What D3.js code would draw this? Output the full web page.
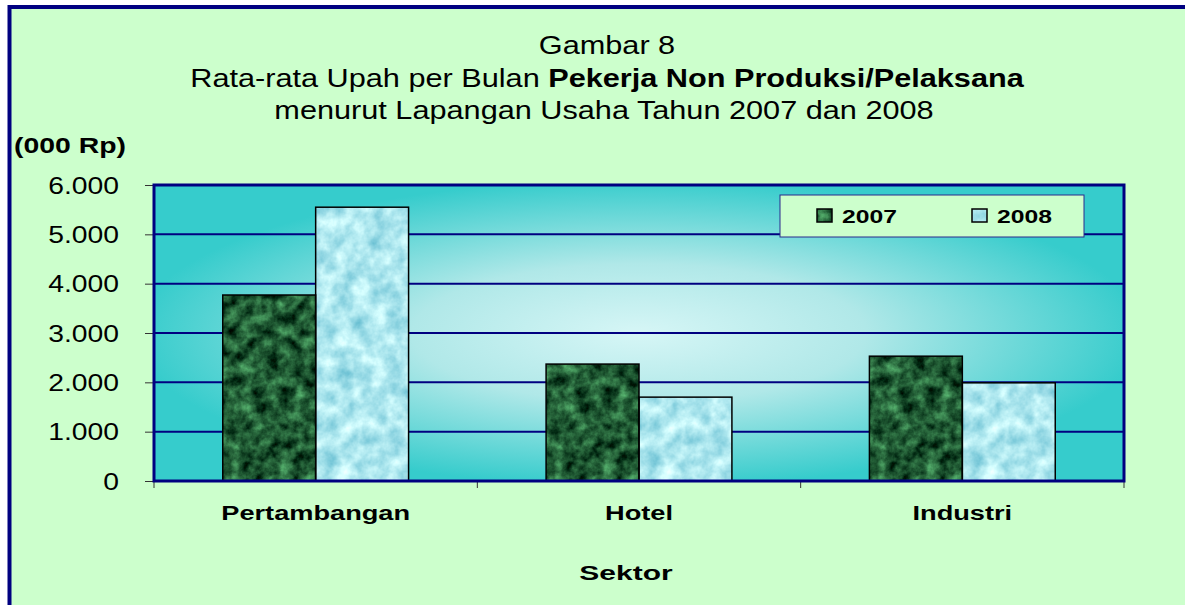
<!DOCTYPE html>
<html lang="en">
<head>
<meta charset="UTF-8">
<title>Gambar 8</title>
<script src="https://d3js.org/d3.v7.min.js"></script>
<style>
    body { margin: 0; background: #ffffff; }
    svg { display: block; font-family: "Liberation Sans", Arial, sans-serif; }
</style>
</head>
<body>
<svg id="chart" width="1185" height="605"></svg>
<script>
    // data (000 Rp)
    const categories = ["Pertambangan", "Hotel", "Industri"];
    const years = ["2007", "2008"];
    const values2007 = [3770, 2370, 2530];
    const values2008 = [5550, 1700, 1990];
    const yTicks = [0, 1000, 2000, 3000, 4000, 5000, 6000];

    const rows = categories.map((c, i) => ({ cat: c, "2007": values2007[i], "2008": values2008[i] }));

    const W = 1185, H = 605;
    const margin = { top: 185, right: 61, bottom: 124, left: 154 };
    const SX = 1.18; // reference text is stretched sideways

    const svg = d3.select("#chart");
    const defs = svg.append("defs");

    // plot background: radial glow
    const rg = defs.append("radialGradient").attr("id", "glow")
        .attr("cx", 0.5).attr("cy", 0.5).attr("r", 0.52);
    rg.append("stop").attr("offset", "0%").attr("stop-color", "#d6f6f6");
    rg.append("stop").attr("offset", "45%").attr("stop-color", "#b0e8e8");
    rg.append("stop").attr("offset", "100%").attr("stop-color", "#36cccc");

    // marble / water textures
    function texture(id, freq, seed, m) {
        const f = defs.append("filter").attr("id", id)
            .attr("x", 0).attr("y", 0).attr("width", 1).attr("height", 1)
            .attr("color-interpolation-filters", "sRGB");
        f.append("feTurbulence").attr("type", "fractalNoise")
            .attr("baseFrequency", freq).attr("numOctaves", 4).attr("seed", seed).attr("result", "n");
        f.append("feColorMatrix").attr("in", "n").attr("type", "matrix")
            .attr("values", m).attr("result", "c");
        f.append("feComposite").attr("in", "c").attr("in2", "SourceGraphic").attr("operator", "in");
    }
    texture("marble", 0.08, 4,
        "0.55 0 0 0 -0.15  0.9 0 0 0 -0.1  0.6 0 0 0 -0.1  0 0 0 0 1");
    texture("water", 0.06, 9,
        "0.6 0 0 0 0.38  0.35 0 0 0 0.73  0.25 0 0 0 0.81  0 0 0 0 1");
    const fills = { "2007": "url(#marble)", "2008": "url(#water)" };

    // outer panel
    svg.append("rect").attr("x", 9.5).attr("y", 7).attr("width", W + 20).attr("height", H + 20)
        .attr("fill", "#ccffcc").attr("stroke", "#000080").attr("stroke-width", 4);

    function label(x, y, str, size, weight, anchor, k) {
        return svg.append("text")
            .attr("transform", `translate(${x},${y}) scale(${k || SX},1)`)
            .attr("text-anchor", anchor || "middle")
            .attr("font-size", size).attr("font-weight", weight || "normal")
            .attr("fill", "#000").text(str);
    }

    // titles
    label(607, 54, "Gambar 8", 26);
    const t2 = label(607, 87, "", 26);
    t2.append("tspan").text("Rata-rata Upah per Bulan ");
    t2.append("tspan").attr("font-weight", "bold").text("Pekerja Non Produksi/Pelaksana");
    label(604, 119, "menurut Lapangan Usaha Tahun 2007 dan 2008", 26);
    label(14, 153, "(000 Rp)", 22, "bold", "start", 1.29);

    const x0 = d3.scaleBand().domain(categories)
        .range([margin.left, W - margin.right]);
    const x1 = d3.scaleBand().domain(years)
        .range([0, x0.bandwidth()]).paddingOuter(0.74);
    const y = d3.scaleLinear().domain([0, 6000]).range([H - margin.bottom, margin.top]);

    const fmt = d3.formatLocale({ decimal: ",", thousands: ".", grouping: [3], currency: ["Rp", ""] }).format(",");

    // plot area
    svg.append("rect")
        .attr("x", margin.left).attr("y", margin.top)
        .attr("width", W - margin.left - margin.right)
        .attr("height", H - margin.top - margin.bottom)
        .attr("fill", "url(#glow)");

    svg.append("g").selectAll("line").data(yTicks.slice(1, -1)).join("line")
        .attr("x1", margin.left).attr("x2", W - margin.right)
        .attr("y1", d => y(d)).attr("y2", d => y(d))
        .attr("stroke", "#000080").attr("stroke-width", 2);

    // y axis
    const TK = 1.23;
    const yAxis = svg.append("g").attr("transform", `translate(${margin.left},0)`)
        .call(d3.axisLeft(y).tickValues(yTicks).tickFormat(fmt).tickSize(9).tickSizeOuter(0));
    yAxis.select(".domain").remove();
    yAxis.selectAll(".tick line").attr("stroke", "#333");
    yAxis.selectAll(".tick text")
        .attr("font-size", 23).attr("font-family", "Liberation Sans, Arial, sans-serif")
        .attr("fill", "#000").attr("x", -35 / TK).attr("dy", "0.36em")
        .attr("transform", `scale(${TK},1)`);

    // x axis ticks (category boundaries)
    const xb = [margin.left].concat(categories.map(c => x0(c) + x0.bandwidth()));
    svg.append("g").selectAll("line").data(xb).join("line")
        .attr("x1", d => d).attr("x2", d => d)
        .attr("y1", y(0)).attr("y2", y(0) + 7)
        .attr("stroke", "#333").attr("stroke-width", 1);

    // bars
    const groups = svg.append("g").selectAll("g").data(rows).join("g")
        .attr("transform", d => `translate(${x0(d.cat)},0)`);
    groups.selectAll("rect").data(d => years.map(k => ({ k, v: d[k] }))).join("rect")
        .attr("x", d => x1(d.k)).attr("y", d => y(d.v))
        .attr("width", x1.bandwidth()).attr("height", d => y(0) - y(d.v))
        .attr("fill", "#000").attr("filter", d => fills[d.k]);
    groups.selectAll("rect.edge").data(d => years.map(k => ({ k, v: d[k] }))).join("rect")
        .attr("class", "edge")
        .attr("x", d => x1(d.k)).attr("y", d => y(d.v))
        .attr("width", x1.bandwidth()).attr("height", d => y(0) - y(d.v))
        .attr("fill", "none").attr("stroke", "#000").attr("stroke-width", 1.5);

    // plot frame
    svg.append("rect")
        .attr("x", margin.left).attr("y", margin.top)
        .attr("width", W - margin.left - margin.right)
        .attr("height", H - margin.top - margin.bottom)
        .attr("fill", "none").attr("stroke", "#000080").attr("stroke-width", 3);

    // category labels
    categories.forEach(c => label(x0(c) + x0.bandwidth() / 2, 520, c, 20, "bold", "middle", 1.36));
    label(626, 580, "Sektor", 20, "bold", "middle", 1.5);

    // legend
    const lg = svg.append("g").attr("transform", "translate(780,195)");
    lg.append("rect").attr("width", 304).attr("height", 42)
        .attr("fill", "#ccffcc").attr("stroke", "#2a2a8c").attr("stroke-width", 1);
    years.forEach((k, i) => {
        const gx = 37 + i * 155;
        lg.append("rect").attr("x", gx).attr("y", 14).attr("width", 15).attr("height", 13)
            .attr("fill", "#000").attr("filter", fills[k]);
        lg.append("rect").attr("x", gx).attr("y", 14).attr("width", 15).attr("height", 13)
            .attr("fill", "none").attr("stroke", "#000").attr("stroke-width", 1.5);
        lg.append("text")
            .attr("transform", `translate(${gx + 25},28) scale(1.3,1)`)
            .attr("font-size", 19).attr("font-weight", "bold").text(k);
    });
</script>
</body>
</html>
